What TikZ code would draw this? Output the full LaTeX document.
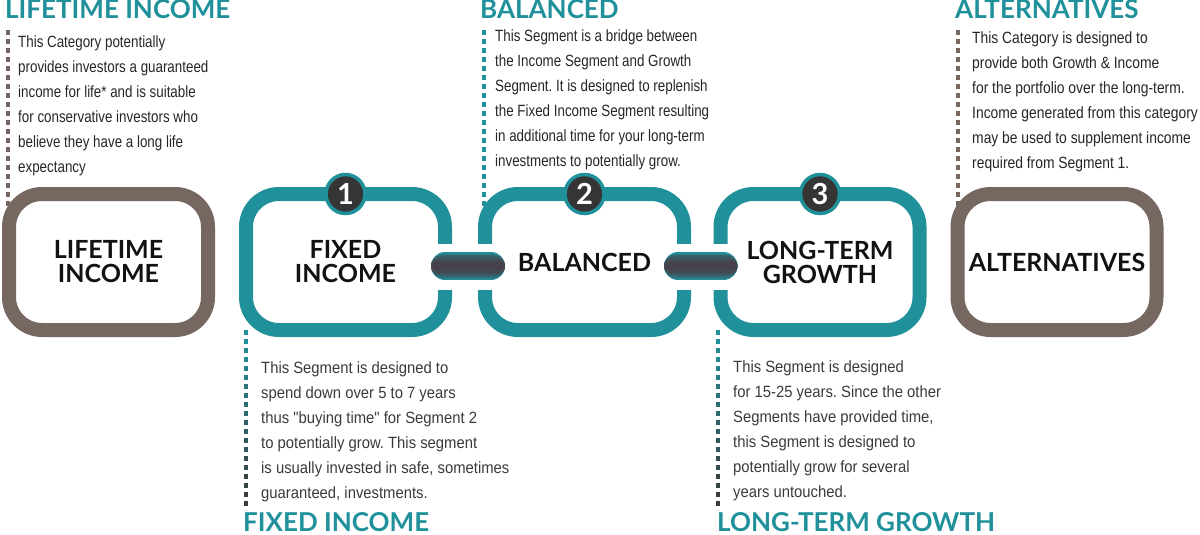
\documentclass[tikz,border=0pt]{standalone}
\usepackage{fontspec}
\setmainfont{Liberation Sans}
\newfontfamily\headfont{Lato}
\newfontfamily\narrowfont[FakeStretch=0.82]{Liberation Sans}
\newfontfamily\midfont[FakeStretch=0.85]{Liberation Sans}
\newfontfamily\widefont[FakeStretch=0.91]{Liberation Sans}
\usetikzlibrary{calc,backgrounds}
\definecolor{segteal}{HTML}{20919B}
\definecolor{catbrown}{HTML}{766760}
\definecolor{numdark}{HTML}{353535}
\definecolor{linkdark}{HTML}{47414B}
\definecolor{bodygray}{HTML}{262626}
\definecolor{lowgray}{HTML}{3A3A3A}
\frenchspacing
\begin{document}
\begin{tikzpicture}[x=1pt, y=-1pt,
  segbox/.style={draw=segteal, line width=14pt, rounded corners=33pt,
    minimum width=199pt, minimum height=136pt, outer sep=0pt, inner sep=0pt,
    align=center, text=black!93, font=\headfont\bfseries\fontsize{25}{24}\selectfont},
  catbox/.style={segbox, draw=catbrown},
  numdot/.style={circle, fill=numdark, draw=segteal, line width=3.5pt,
    minimum size=39pt, inner sep=0pt, text=white,
    font=\headfont\bfseries\fontsize{29}{29}\selectfont},
  heading/.style={anchor=base west, inner sep=0pt, text=segteal,
    font=\headfont\bfseries\fontsize{26}{26}\selectfont},
  blurb/.style={anchor=north west, inner sep=0pt, align=left, text=bodygray},
  leader/.style={line width=4pt, dash pattern=on 5pt off 4pt},
  gap/.style={white, line width=46pt},
]
\useasboundingbox (0,0) rectangle (1200,535);

% the five boxes
\node[catbox] (lifetime) at (108.5,262) {LIFETIME\\INCOME};
\node[segbox] (fixed) at (345.5,262) {FIXED\\INCOME};
\node[segbox] (balanced) at (584.5,262) {BALANCED};
\node[segbox] (growth) at (820,262) {LONG-TERM\\GROWTH};
\node[catbox] (alternatives) at (1057,262) {ALTERNATIVES};

% dotted leaders, behind the boxes
\coordinate (lt dash) at (8,30);
\coordinate (bal dash) at (484,30);
\coordinate (alt dash) at (958,30);
\coordinate (fi dash) at (246,510);
\coordinate (lg dash) at (718,510);
\begin{scope}[on background layer]
\draw[leader, catbrown] (lt dash) -- (lt dash |- lifetime.west);
\draw[leader, segteal] (bal dash) -- (bal dash |- balanced.west);
\draw[leader, catbrown] (alt dash) -- (alt dash |- alternatives.west);
\foreach \k [evaluate=\k as \p using {int(100-11*\k)},
             evaluate=\k as \a using {\k/10},
             evaluate=\k as \b using {(\k+1)/10}] in {0,...,9} {
  \draw[leader, segteal!\p!lowgray] ($(fixed.west |- fixed.south)!\a!(fi dash)$) -- ($(fixed.west |- fixed.south)!\b!(fi dash)$);
  \draw[leader, segteal!\p!lowgray] ($(lg dash |- growth.south)!\a!(lg dash)$) -- ($(lg dash |- growth.south)!\b!(lg dash)$);
}
\end{scope}

% links between the segments
\draw[gap] ([xshift=-9,yshift=-5]fixed.east) -- ([xshift=9,yshift=-5]balanced.west);
\draw[gap] ([xshift=-9,yshift=-5]balanced.east) -- ([xshift=9,yshift=-5]growth.west);
\foreach \w/\p in {28/0,25/30,22/55,18/75,13/90,8/100} {
  \pgfmathsetmacro\ext{14-\w/2}
  \draw[line width=\w pt, line cap=round, shorten <=-\ext pt, shorten >=-\ext pt, linkdark!\p!segteal]
    ([yshift=-4]fixed.east) -- ([xshift=6,yshift=-4]balanced.west);
  \draw[line width=\w pt, line cap=round, shorten <=-\ext pt, shorten >=-\ext pt, linkdark!\p!segteal]
    ([xshift=-6,yshift=-4]balanced.east) -- ([xshift=3,yshift=-4]growth.west);
}

% numbers
\node[numdot] (one) at (fixed.north) {1};
\node[numdot] (two) at (balanced.north) {2};
\node[numdot] (three) at (growth.north) {3};

% headings
\node[heading] (lt head) at (5,18.5) {LIFETIME INCOME};
\node[heading] (bal head) at (480,18.3) {BALANCED};
\node[heading] (alt head) at (955,18.3) {ALTERNATIVES};
\node[heading] (fi head) at (243,531.5) {FIXED INCOME};
\node[heading] (lg head) at (717,531.5) {LONG-TERM GROWTH};

% texts
\node[blurb, font=\narrowfont\fontsize{16.3}{25}\selectfont] (lt text) at (18,35) {This Category potentially\\
provides investors a guaranteed\\
income for life* and is suitable\\
for conservative investors who\\
believe they have a long life\\
expectancy};
\node[blurb, font=\narrowfont\fontsize{16.3}{25}\selectfont] (bal text) at (495,29) {This Segment is a bridge between\\
the Income Segment and Growth\\
Segment. It is designed to replenish\\
the Fixed Income Segment resulting\\
in additional time for your long-term\\
investments to potentially grow.};
\node[blurb, font=\midfont\fontsize{16.3}{25}\selectfont] (alt text) at (972,31) {This Category is designed to\\
provide both Growth \& Income\\
for the portfolio over the long-term.\\
Income generated from this category\\
may be used to supplement income\\
required from Segment 1.};
\node[blurb, text=lowgray, font=\widefont\fontsize{16.3}{25}\selectfont] (fi text) at (261,361) {This Segment is designed to\\
spend down over 5 to 7 years\\
thus "buying time" for Segment 2\\
to potentially grow. This segment\\
is usually invested in safe, sometimes\\
guaranteed, investments.};
\node[blurb, text=lowgray, font=\widefont\fontsize{16.3}{25}\selectfont] (lg text) at (733,360) {This Segment is designed\\
for 15-25 years. Since the other\\
Segments have provided time,\\
this Segment is designed to\\
potentially grow for several\\
years untouched.};
\end{tikzpicture}
\end{document}
